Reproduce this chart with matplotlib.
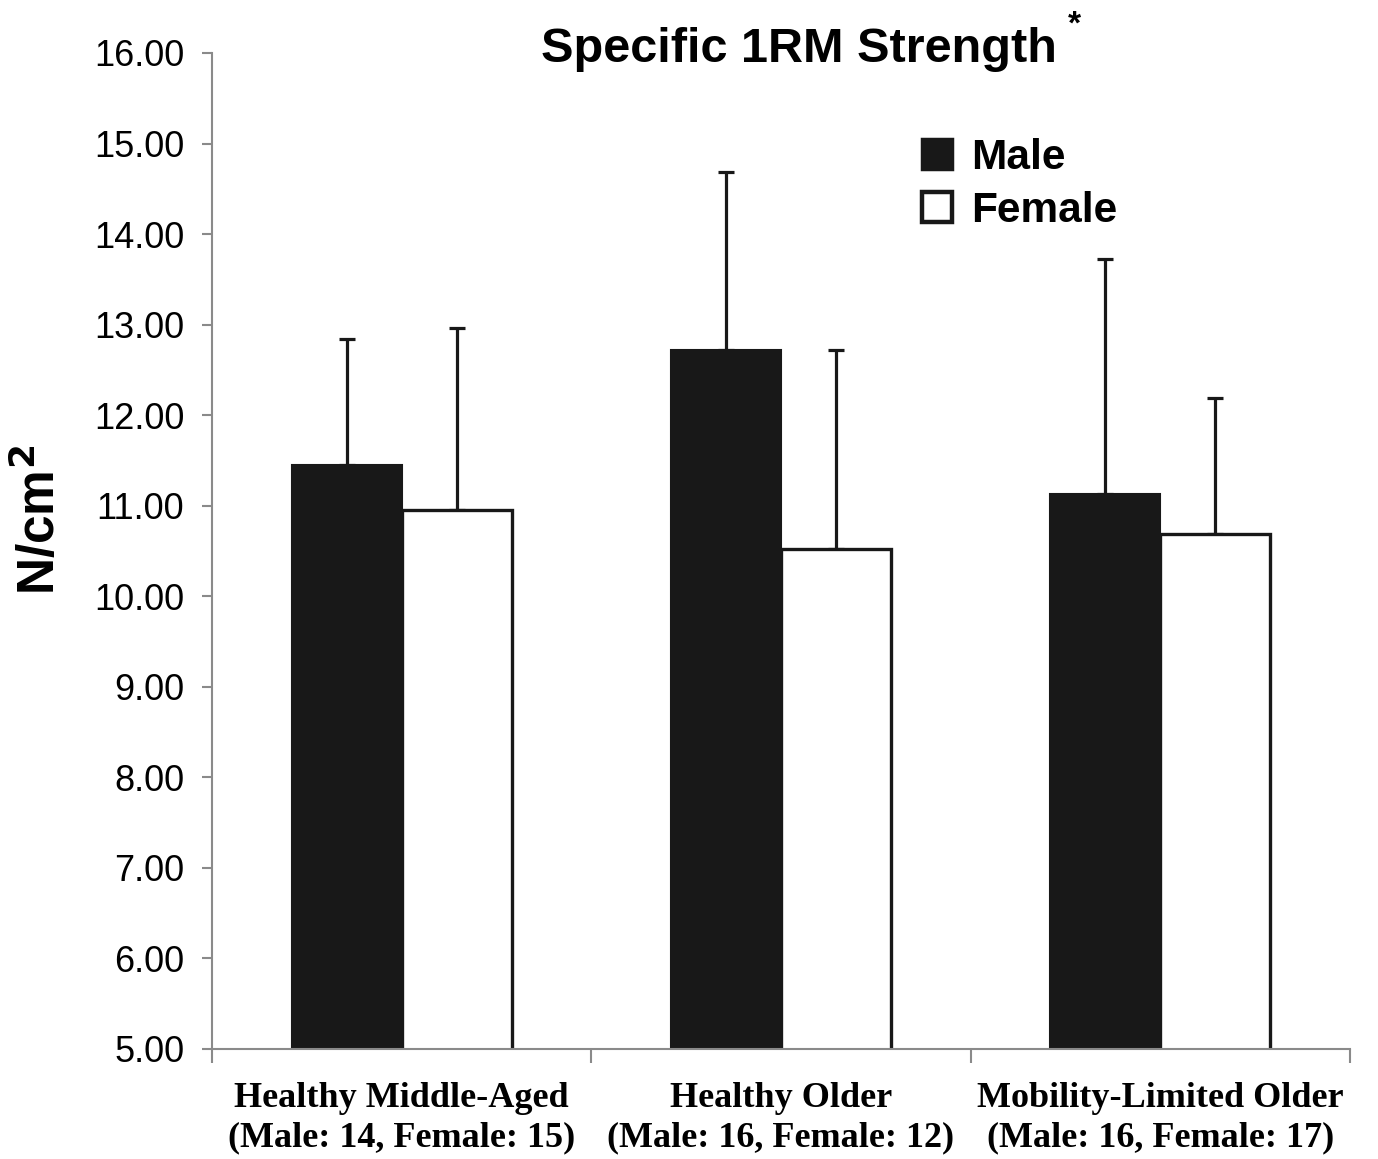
import matplotlib
matplotlib.use("Agg")
import matplotlib.pyplot as plt
import numpy as np
from matplotlib.patches import Patch

# values
groups = ["Healthy Middle-Aged\n(Male: 14, Female: 15)",
          "Healthy Older\n(Male: 16, Female: 12)",
          "Mobility-Limited Older\n(Male: 16, Female: 17)"]
male_mean = [11.45, 12.72, 11.13]
male_sd = [1.39, 1.97, 2.60]
female_mean = [10.95, 10.52, 10.69]
female_sd = [2.01, 2.20, 1.50]
yticks = [5, 6, 7, 8, 9, 10, 11, 12, 13, 14, 15, 16]

sans = "Liberation Sans"
serif = "Liberation Serif"
axis_grey = "#8a8a8a"
dark = "#181818"

fig = plt.figure(figsize=(13.78, 11.59), dpi=100)
ax = fig.add_axes([212/1378, 1 - 1049/1159, 1138/1378, 996/1159])

x = np.arange(len(groups)) + 0.5
w = 0.29

ax.bar(x - w/2, male_mean, width=w, color=dark, edgecolor=dark, linewidth=1.5, zorder=2)
ax.bar(x + w/2, female_mean, width=w, color="white", edgecolor=dark, linewidth=2.4, zorder=2)

ax.errorbar(x - w/2, male_mean, yerr=[np.zeros(3), male_sd], fmt="none",
            ecolor=dark, elinewidth=2.3, capsize=6, capthick=2.3, zorder=1)
ax.errorbar(x + w/2, female_mean, yerr=[np.zeros(3), female_sd], fmt="none",
            ecolor=dark, elinewidth=2.3, capsize=6, capthick=2.3, zorder=1)

ax.set_ylim(5, 16)
ax.set_xlim(0, 3)
ax.set_yticks(yticks)
ax.set_yticklabels(["%.2f" % v for v in yticks], fontfamily=sans, fontsize=26)
ax.tick_params(axis="y", direction="out", length=7, width=1.5, color=axis_grey, pad=13)

# boundary ticks on x, labels at category centres
ax.set_xticks([0, 1, 2, 3])
ax.set_xticklabels([])
ax.tick_params(axis="x", which="major", direction="out", length=10, width=1.5, color=axis_grey)
ax.set_xticks(x, minor=True)
ax.set_xticklabels(groups, minor=True, fontfamily=serif, fontweight="bold",
                   fontsize=26, linespacing=1.25)
ax.tick_params(axis="x", which="minor", length=0, pad=24)

for s in ["top", "right"]:
    ax.spines[s].set_visible(False)
for s in ["left", "bottom"]:
    ax.spines[s].set_color(axis_grey)
    ax.spines[s].set_linewidth(1.5)

fig.text(799/1378, 1 - 50/1159, "Specific 1RM Strength", ha="center", va="center",
         fontfamily=sans, fontweight="bold", fontsize=35)
fig.text(1074/1378, 1 - 25/1159, "*", ha="center", va="center",
         fontfamily=sans, fontweight="bold", fontsize=24)
fig.text(40/1378, 1 - 520/1159, "N/cm$^\\mathbf{2}$", rotation=90, ha="center", va="center",
         fontfamily=sans, fontweight="bold", fontsize=37)

handles = [Patch(facecolor=dark, edgecolor=dark, linewidth=2.5),
           Patch(facecolor="white", edgecolor=dark, linewidth=3.2)]
ax.legend(handles, ["Male", "Female"], loc="upper left", bbox_to_anchor=(0.59, 0.953),
          frameon=False, prop={"family": sans, "weight": "bold", "size": 30.5},
          handlelength=0.72, handleheight=0.72, handletextpad=0.45, labelspacing=0.3)

fig.savefig("out.png", dpi=100)
